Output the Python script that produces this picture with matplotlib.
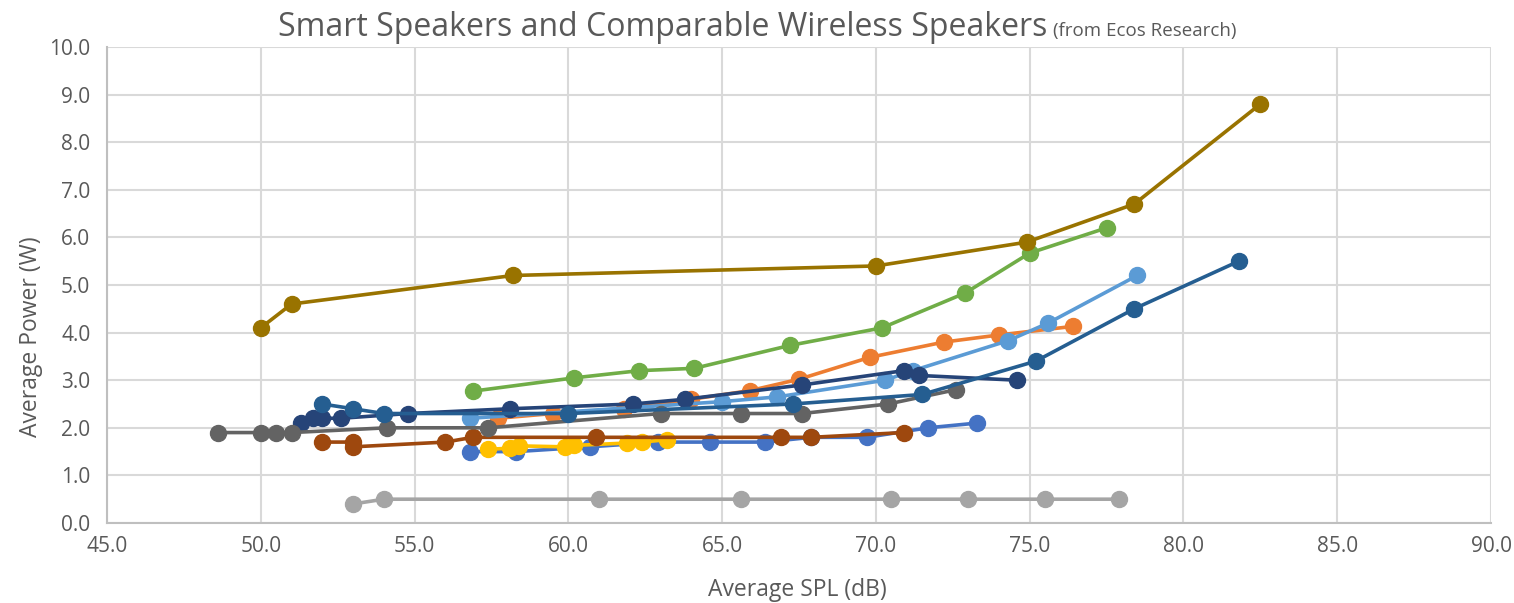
import matplotlib
matplotlib.use("Agg")
import matplotlib.pyplot as plt
from matplotlib.ticker import MultipleLocator, FormatStrFormatter

plt.rcParams['font.family'] = ['Open Sans', 'DejaVu Sans']

# ---- data (x = Average SPL dB, y = Average Power W) ----
s1_x = [56.8, 58.3, 60.7, 62.9, 64.6, 66.4, 67.9, 69.7, 71.7, 73.3]
s1_y = [1.5, 1.5, 1.6, 1.7, 1.7, 1.7, 1.8, 1.8, 2.0, 2.1]
s2_x = [57.7, 59.5, 61.8, 64.0, 65.9, 67.5, 69.8, 72.2, 74.0, 76.4]
s2_y = [2.2, 2.3, 2.4, 2.6, 2.78, 3.02, 3.48, 3.8, 3.95, 4.13]
s3_x = [53.0, 54.0, 61.0, 65.6, 70.5, 73.0, 75.5, 77.9]
s3_y = [0.4, 0.5, 0.5, 0.5, 0.5, 0.5, 0.5, 0.5]
s4_x = [57.4, 58.1, 58.4, 59.9, 60.2, 61.9, 62.4, 63.2]
s4_y = [1.55, 1.57, 1.62, 1.6, 1.63, 1.68, 1.7, 1.75]
s5_x = [56.8, 65.0, 66.8, 70.3, 71.2, 74.3, 75.6, 78.5]
s5_y = [2.2, 2.55, 2.65, 3.0, 3.2, 3.83, 4.2, 5.2]
s6_x = [56.9, 60.2, 62.3, 64.1, 67.2, 70.2, 72.9, 75.0, 77.5]
s6_y = [2.77, 3.05, 3.2, 3.25, 3.73, 4.1, 4.83, 5.67, 6.2]
s7_x = [51.3, 51.7, 52.0, 52.6, 54.8, 58.1, 62.1, 63.8, 67.6, 70.9, 71.4, 74.6]
s7_y = [2.1, 2.2, 2.2, 2.2, 2.3, 2.4, 2.5, 2.6, 2.9, 3.2, 3.1, 3.0]
s8_x = [52.0, 53.0, 53.0, 56.0, 56.9, 60.9, 66.9, 67.9, 70.9]
s8_y = [1.7, 1.7, 1.6, 1.7, 1.8, 1.8, 1.8, 1.8, 1.9]
s9_x = [48.6, 50.0, 50.5, 51.0, 54.1, 57.4, 63.0, 65.6, 67.6, 70.4, 72.6]
s9_y = [1.9, 1.9, 1.9, 1.9, 2.0, 2.0, 2.3, 2.3, 2.3, 2.5, 2.8]
s10_x = [50.0, 51.0, 58.2, 70.0, 74.9, 78.4, 82.5]
s10_y = [4.1, 4.6, 5.2, 5.4, 5.9, 6.7, 8.8]
s11_x = [52.0, 53.0, 54.0, 60.0, 67.3, 71.5, 75.2, 78.4, 81.8]
s11_y = [2.5, 2.4, 2.3, 2.3, 2.5, 2.7, 3.4, 4.5, 5.5]

series = [
    (s1_x, s1_y, '#4472C4'),
    (s2_x, s2_y, '#ED7D31'),
    (s3_x, s3_y, '#A5A5A5'),
    (s4_x, s4_y, '#FFC000'),
    (s5_x, s5_y, '#5B9BD5'),
    (s6_x, s6_y, '#70AD47'),
    (s7_x, s7_y, '#264478'),
    (s8_x, s8_y, '#9E480E'),
    (s9_x, s9_y, '#636363'),
    (s10_x, s10_y, '#997300'),
    (s11_x, s11_y, '#255E91'),
]

title_main = "Smart Speakers and Comparable Wireless Speakers"
title_sub = "(from Ecos Research)"
x_label = "Average SPL (dB)"
y_label = "Average Power (W)"

W, H = 1514, 603
AX_L, AX_R, AX_T, AX_B = 107, 1491, 47, 523
fig = plt.figure(figsize=(W / 100, H / 100), dpi=100)
ax = fig.add_axes([AX_L / W, 1 - AX_B / H, (AX_R - AX_L) / W, (AX_B - AX_T) / H])

for i, (xs, ys, c) in enumerate(series):
    ax.plot(xs, ys, color=c, lw=2.6, marker='o', ms=11.5, mec=c, mfc=c,
            zorder=3 + i, solid_capstyle='round', clip_on=False)

ax.set_xlim(45, 90)
ax.set_ylim(0, 10)
ax.xaxis.set_major_locator(MultipleLocator(5))
ax.yaxis.set_major_locator(MultipleLocator(1))
ax.xaxis.set_major_formatter(FormatStrFormatter('%.1f'))
ax.yaxis.set_major_formatter(FormatStrFormatter('%.1f'))
ax.grid(True, color='#D9D9D9', lw=1.5, zorder=0)
ax.set_axisbelow(True)
for sp in ['top', 'right']:
    ax.spines[sp].set_visible(False)
for sp in ['left', 'bottom']:
    ax.spines[sp].set_color('#BFBFBF')
    ax.spines[sp].set_linewidth(1.5)
ax.tick_params(length=0, labelsize=15, colors='#595959')
ax.tick_params(axis='x', pad=9)
ax.tick_params(axis='y', pad=12)

ax.set_xlabel(x_label, fontsize=16.5, color='#595959')
ax.set_ylabel(y_label, fontsize=16.5, color='#595959')
ax.xaxis.set_label_coords(0.5 + (797 - (AX_L + AX_R) / 2) / (AX_R - AX_L),
                          -(578 - AX_B) / (AX_B - AX_T))
ax.yaxis.set_label_coords(-(AX_L - 43) / (AX_R - AX_L),
                          (AX_B - 337) / (AX_B - AX_T))

# title in two parts, centred together
ty = 1 - 36 / H
t1 = fig.text(0, ty, title_main, fontsize=23, color='#595959', va='baseline', ha='left')
t2 = fig.text(0, ty, title_sub, fontsize=13.5, color='#595959', va='baseline', ha='left')
fig.canvas.draw()
r = fig.canvas.get_renderer()
w1 = t1.get_window_extent(r).width
w2 = t2.get_window_extent(r).width
gap = 6
start = (W - (w1 + gap + w2)) / 2
t1.set_x(start / W)
t2.set_x((start + w1 + gap) / W)

fig.savefig('out.png', dpi=100)
